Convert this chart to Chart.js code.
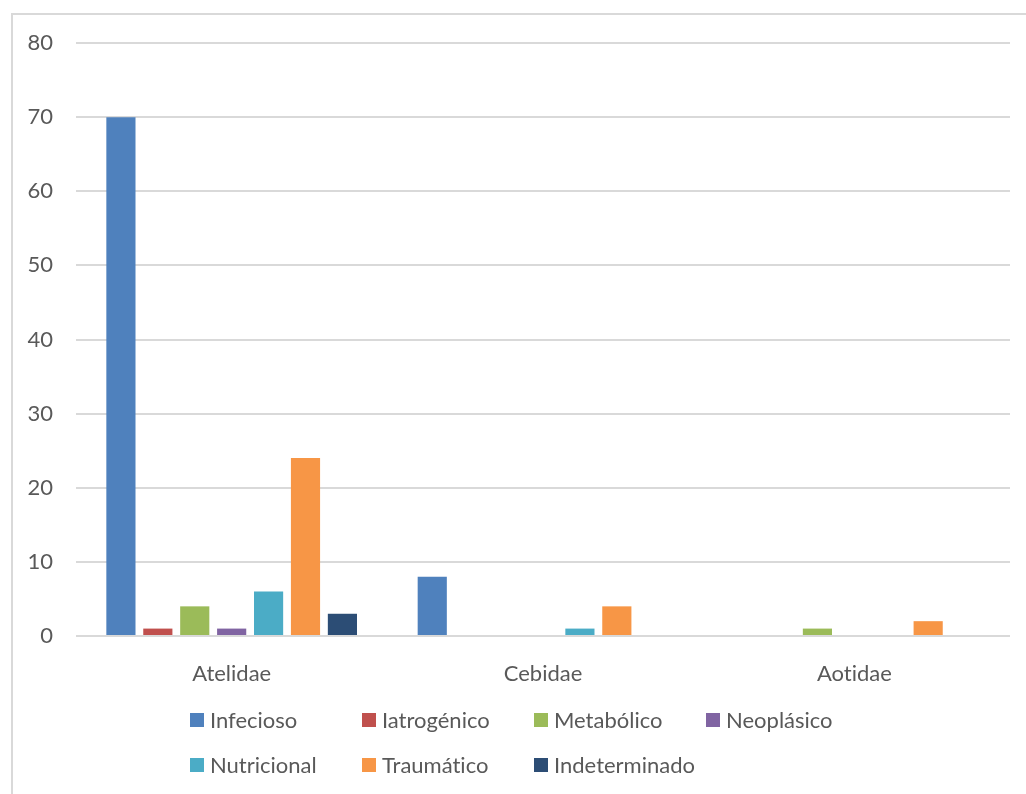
<!DOCTYPE html>
<html>
<head>
<meta charset="utf-8">
<script src="https://cdn.jsdelivr.net/npm/chart.js@4/dist/chart.umd.min.js"></script>
<style>
    body { margin: 0; background: #fff; }
    #wrap { position: relative; width: 1026px; height: 794px; overflow: hidden; }
    #frame { position: absolute; left: 11px; top: 13px; width: 1100px; height: 900px; border: 2px solid #d9d9d9; }
    #chart { position: absolute; left: 0; top: 0; }
    #legend { position: absolute; left: 190px; top: 707px; display: grid; grid-template-columns: repeat(4, 172px); row-gap: 19px; font-family: Lato, sans-serif; font-size: 22px; color: #595959; font-variant-ligatures: none; }
    .item { display: flex; align-items: center; height: 26px; line-height: 26px; white-space: nowrap; }
    .box { width: 14px; height: 14px; margin-right: 6px; }
</style>
</head>
<body>
<div id="wrap">
    <div id="frame"></div>
    <canvas id="chart" width="1026" height="794"></canvas>
    <div id="legend"></div>
</div>
<script>
// DATA
let families = ["Atelidae", "Cebidae", "Aotidae"];
let causes = ["Infecioso", "Iatrogénico", "Metabólico", "Neoplásico", "Nutricional", "Traumático", "Indeterminado"];
let infecioso = [70, 8, 0];
let iatrogenico = [1, 0, 0];
let metabolico = [4, 0, 1];
let neoplasico = [1, 0, 0];
let nutricional = [6, 1, 0];
let traumatico = [24, 4, 2];
let indeterminado = [3, 0, 0];
let yTicks = [0, 10, 20, 30, 40, 50, 60, 70, 80];

let values = [infecioso, iatrogenico, metabolico, neoplasico, nutricional, traumatico, indeterminado];
let colors = ['#4f81bd', '#c0504d', '#9bbb59', '#8064a2', '#4bacc6', '#f79646', '#2c4d75'];

let font = { family: "Lato, sans-serif", size: 22 };

// no "ti" ligature in the canvas text
let noLigatures = {
    id: 'noLigatures',
    beforeDraw(c) { c.ctx.textRendering = 'optimizeSpeed'; }
};

// CHART
let ctx = document.getElementById("chart");

let chart = new Chart(ctx, {
    type: 'bar',
    data: {
        labels: families,
        datasets: causes.map((c, i) => ({
            label: c,
            data: values[i],
            backgroundColor: colors[i],
            borderWidth: 0,
            barPercentage: 0.79,
            categoryPercentage: 0.83
        }))
    },
    options: {
        responsive: false,
        animation: false,
        layout: { padding: { left: 24, right: 16, top: 43, bottom: 108 } },
        plugins: {
            legend: { display: false },
            tooltip: { enabled: false }
        },
        scales: {
            x: {
                grid: { display: false },
                border: { display: false },
                ticks: { color: '#595959', font: font, padding: 17 },
                afterFit: s => { s.height = 50; }
            },
            y: {
                min: 0,
                max: 80,
                grid: { color: '#d9d9d9', lineWidth: 2, drawTicks: false },
                border: { display: false },
                ticks: {
                    color: '#595959', font: font, padding: 23, stepSize: 10,
                    callback: v => yTicks.includes(v) ? v : ''
                },
                afterFit: s => { s.width = 52; }
            }
        }
    },
    plugins: [noLigatures]
});

// LEGEND
let legend = document.getElementById("legend");
causes.forEach((c, i) => {
    let item = document.createElement("div");
    item.className = "item";
    let box = document.createElement("span");
    box.className = "box";
    box.style.background = colors[i];
    item.appendChild(box);
    item.appendChild(document.createTextNode(c));
    legend.appendChild(item);
});
</script>
</body>
</html>
